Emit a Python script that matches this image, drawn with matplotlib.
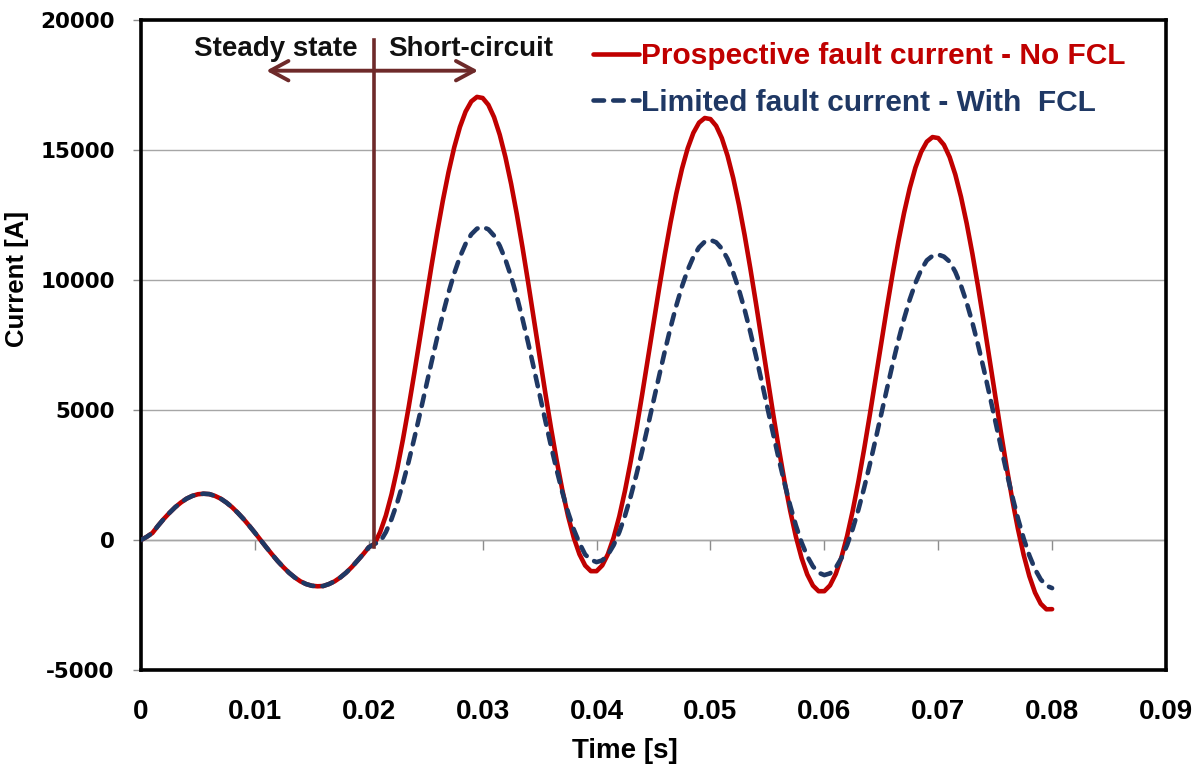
#!/usr/bin/env python3
"""
Fault current with and without a fault current limiter (FCL).

Prospective (no FCL) and limited (with FCL) short-circuit current,
steady state before the fault at ~0.0205 s, short-circuit afterwards.
"""

import matplotlib
matplotlib.use('Agg')
import matplotlib.pyplot as plt

plt.rcParams['axes.unicode_minus'] = False


# Time samples [ms], 0.5 ms step
time_ms = [
    0, 0.5, 1, 1.5, 2, 2.5, 3, 3.5, 4, 4.5,
    5, 5.5, 6, 6.5, 7, 7.5, 8, 8.5, 9, 9.5,
    10, 10.5, 11, 11.5, 12, 12.5, 13, 13.5, 14, 14.5,
    15, 15.5, 16, 16.5, 17, 17.5, 18, 18.5, 19, 19.5,
    20, 20.5, 21, 21.5, 22, 22.5, 23, 23.5, 24, 24.5,
    25, 25.5, 26, 26.5, 27, 27.5, 28, 28.5, 29, 29.5,
    30, 30.5, 31, 31.5, 32, 32.5, 33, 33.5, 34, 34.5,
    35, 35.5, 36, 36.5, 37, 37.5, 38, 38.5, 39, 39.5,
    40, 40.5, 41, 41.5, 42, 42.5, 43, 43.5, 44, 44.5,
    45, 45.5, 46, 46.5, 47, 47.5, 48, 48.5, 49, 49.5,
    50, 50.5, 51, 51.5, 52, 52.5, 53, 53.5, 54, 54.5,
    55, 55.5, 56, 56.5, 57, 57.5, 58, 58.5, 59, 59.5,
    60, 60.5, 61, 61.5, 62, 62.5, 63, 63.5, 64, 64.5,
    65, 65.5, 66, 66.5, 67, 67.5, 68, 68.5, 69, 69.5,
    70, 70.5, 71, 71.5, 72, 72.5, 73, 73.5, 74, 74.5,
    75, 75.5, 76, 76.5, 77, 77.5, 78, 78.5, 79, 79.5,
    80,
]

# Steady state, 0 .. 20 ms (both curves identical) [A]
steady_current = [
    0, 120, 270, 550, 810, 1045, 1260, 1440, 1590, 1695,
    1760, 1780, 1765, 1695, 1590, 1440, 1260, 1045, 810, 550,
    280, 0, -280, -550, -810, -1045, -1260, -1440, -1590, -1695,
    -1760, -1780, -1770, -1695, -1590, -1440, -1260, -1045, -800, -550,
    -280,
]

# Short-circuit, 20.5 .. 80 ms [A]
prospective_fault = [
    -150, 306, 940, 1759, 2743, 3868, 5104, 6421, 7786,
    9165, 10524, 11827, 13045, 14143, 15097, 15881, 16476, 16867, 17042,
    17000, 16737, 16262, 15585, 14722, 13695, 12527, 11248, 9888, 8480,
    7058, 5657, 4311, 3051, 1911, 914, 89, -549, -981, -1198,
    -1198, -977, -543, 93, 915, 1901, 3028, 4266, 5585, 6952,
    8333, 9695, 11000, 12219, 13320, 14276, 15062, 15659, 16052, 16230,
    16189, 15929, 15456, 14781, 13920, 12895, 11729, 10452, 9094, 7688,
    6268, 4869, 3525, 2267, 1129, 134, -689, -1325, -1755, -1970,
    -1968, -1745, -1309, -671, 153, 1141, 2270, 3510, 4831, 6200,
    7583, 8947, 10254, 11475, 12578, 13536, 14324, 14923, 15318, 15497,
    15459, 15200, 14729, 14056, 13197, 12174, 11010, 9735, 8379, 6975,
    5557, 4159, 2817, 1562, 425, -568, -1389, -2023, -2451, -2665,
    -2660,
]

limited_fault = [
    -150, -66, 302, 807, 1439, 2180, 3014, 3917, 4870,
    5845, 6821, 7773, 8677, 9510, 10252, 10883, 11389, 11756, 11975,
    12040, 11950, 11706, 11314, 10783, 10127, 9360, 8502, 7573, 6596,
    5595, 4595, 3617, 2689, 1830, 1064, 407, -123, -560, -759,
    -850, -784, -566, -198, 307, 939, 1680, 2514, 3417, 4370,
    5345, 6321, 7273, 8177, 9010, 9752, 10383, 10889, 11256, 11475,
    11540, 11450, 11206, 10814, 10283, 9627, 8860, 8002, 7073, 6096,
    5095, 4095, 3117, 2189, 1330, 564, -93, -623, -1016, -1259,
    -1350, -1284, -1066, -698, -193, 439, 1180, 2014, 2917, 3870,
    4845, 5821, 6773, 7677, 8510, 9252, 9883, 10389, 10756, 10930,
    10980, 10900, 10706, 10314, 9783, 9127, 8360, 7502, 6573, 5596,
    4595, 3595, 2617, 1689, 830, 64, -593, -1123, -1516, -1759,
    -1850,
]

time_s = [t / 1000 for t in time_ms]
prospective_current = steady_current + prospective_fault
limited_current = steady_current + limited_fault

series_labels = ['Prospective fault current - No FCL',
                 'Limited fault current - With  FCL']

x_ticks = [0, 0.01, 0.02, 0.03, 0.04, 0.05, 0.06, 0.07, 0.08, 0.09]
x_tick_labels = ['0', '0.01', '0.02', '0.03', '0.04', '0.05', '0.06',
                 '0.07', '0.08', '0.09']
y_ticks = [-5000, 0, 5000, 10000, 15000, 20000]

# fault instant and annotation
fault_time = 0.0205

RED = '#C00000'
BLUE = '#1F3864'
BROWN = '#6E2A2A'
GRID = '#A6A6A6'


def draw_chart(ax):
    """Draw both current curves with grid, ticks and annotations."""
    ax.plot(time_s, prospective_current, color=RED, lw=3.3,
            solid_capstyle='round', solid_joinstyle='round',
            label=series_labels[0], zorder=3)
    ax.plot(time_s, limited_current, color=BLUE, lw=3.3,
            linestyle=(0, (2.3, 2.0)), dash_capstyle='round',
            label=series_labels[1], zorder=4)

    ax.set_xlim(0, 0.09)
    ax.set_ylim(-5000, 20000)
    ax.set_yticks(y_ticks)
    ax.set_xticks(x_ticks)
    ax.set_xticklabels(x_tick_labels)
    ax.yaxis.grid(True, color=GRID, lw=1.0)
    ax.set_axisbelow(True)

    for s in ax.spines.values():
        s.set_color('black')
        s.set_linewidth(2.6)

    ax.tick_params(axis='x', length=0, pad=21)
    ax.tick_params(axis='y', direction='out', length=6, width=1.0,
                   color='#8C8C8C', pad=13)
    for lab in ax.get_xticklabels():
        lab.set_fontfamily('Liberation Sans')
        lab.set_fontweight('bold')
        lab.set_fontsize(20)
    for lab in ax.get_yticklabels():
        lab.set_fontfamily('DejaVu Sans')
        lab.set_fontweight('bold')
        lab.set_fontsize(15.5)

    # horizontal axis line at zero with downward tick marks
    zero_pos = (0 - (-5000)) / 25000
    sec = ax.secondary_xaxis(zero_pos)
    sec.set_xticks(x_ticks)
    sec.set_xticklabels([])
    sec.tick_params(axis='x', direction='out', length=7, width=1.0,
                    color='#8C8C8C')
    for s in sec.spines.values():
        s.set_color('#8C8C8C')
        s.set_linewidth(1.0)

    ax.set_xlabel('Time [s]', fontfamily='Liberation Sans',
                  fontweight='bold', fontsize=20)
    ax.set_ylabel('Current [A]', fontfamily='Liberation Sans',
                  fontweight='bold', fontsize=18.5)
    ax.xaxis.set_label_coords(0.472, -0.104)
    ax.yaxis.set_label_coords(-0.1097, 0.601)

    # fault instant marker and the two-way arrow
    ax.plot([fault_time, fault_time], [-250, 19230], color=BROWN, lw=2.6,
            zorder=5)
    ax.annotate('', xy=(0.0110, 18050), xytext=(0.0296, 18050),
                arrowprops=dict(arrowstyle='<->, head_length=0.65, head_width=0.35',
                                color=BROWN, lw=2.8, mutation_scale=20,
                                shrinkA=0, shrinkB=0), zorder=5)
    ax.text(0.0190, 18615, 'Steady state', ha='right', va='baseline',
            fontfamily='Liberation Sans', fontweight='bold', fontsize=20,
            color='#111111')
    ax.text(0.0217, 18615, 'Short-circuit', ha='left', va='baseline',
            fontfamily='Liberation Sans', fontweight='bold', fontsize=20,
            color='#111111')

    leg = ax.legend(loc='upper left', bbox_to_anchor=(0.4408, 0.966),
                    frameon=False, borderpad=0, borderaxespad=0,
                    handlelength=1.55, handletextpad=0.08, labelspacing=0.62,
                    labelcolor='linecolor',
                    prop={'family': 'Liberation Sans', 'weight': 'bold',
                          'size': 21.5})
    return leg


def main():
    fig = plt.figure(figsize=(11.97, 7.69), dpi=100)
    ax = fig.add_axes([141 / 1197, 1 - 670 / 769, (1166 - 141) / 1197,
                       (670 - 20) / 769])
    draw_chart(ax)
    fig.savefig('out.png', dpi=100)
    plt.close(fig)


if __name__ == "__main__":
    main()
